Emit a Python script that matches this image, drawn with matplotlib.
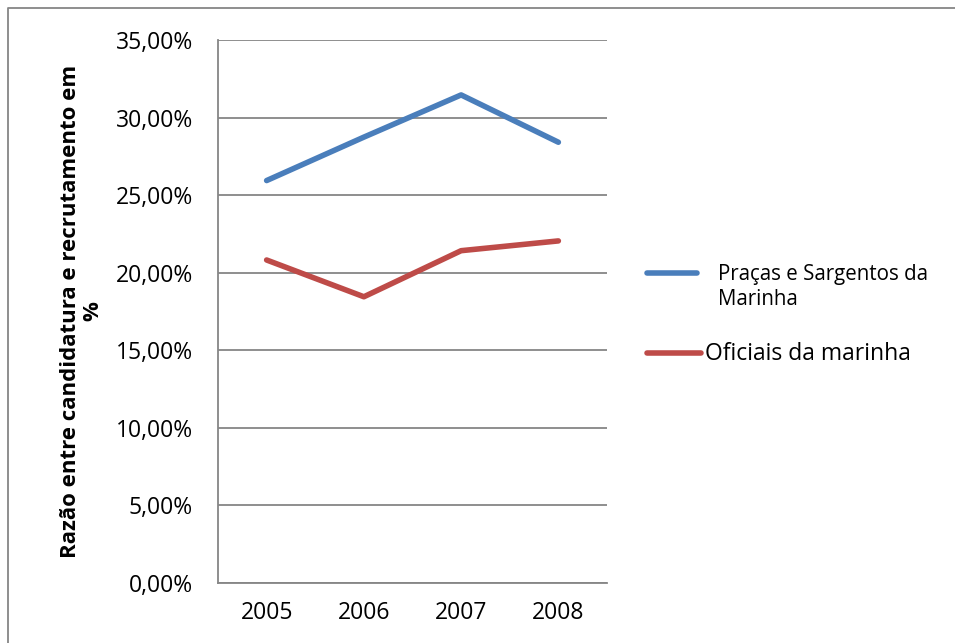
import matplotlib
matplotlib.use("Agg")
import matplotlib.pyplot as plt
from matplotlib.lines import Line2D
from matplotlib.ticker import FuncFormatter

plt.rcParams["font.family"] = ["Open Sans", "DejaVu Sans"]

years = ["2005", "2006", "2007", "2008"]
pracas = [25.94, 28.74, 31.46, 28.41]
oficiais = [20.82, 18.45, 21.42, 22.05]
series_names = ["Praças e Sargentos da\nMarinha", "Oficiais da marinha"]
y_label = "Razão entre candidatura e recrutamento em\n%"

blue = "#4a7ebb"
red = "#be4b48"
grid_c = "#868686"

fig = plt.figure(figsize=(9.55, 6.43), dpi=100)
ax = fig.add_axes([218 / 955, 1 - 583 / 643, (607 - 218) / 955, (583 - 40) / 643])

x = range(len(years))
ax.plot(x, pracas, color=blue, lw=4, solid_capstyle="round", solid_joinstyle="round", zorder=3)
ax.plot(x, oficiais, color=red, lw=4, solid_capstyle="round", solid_joinstyle="round", zorder=3)

ax.set_xlim(-0.5, len(years) - 0.5)
ax.set_ylim(0, 35)
ax.set_yticks(range(0, 36, 5))
ax.yaxis.set_major_formatter(FuncFormatter(lambda v, p: f"{v:.2f}%".replace(".", ",")))
ax.set_xticks(list(x))
ax.set_xticklabels(years)
ax.tick_params(length=0, labelsize=16.5, colors="black")
ax.tick_params(axis="y", pad=18)
ax.tick_params(axis="x", pad=13)
ax.grid(axis="y", color=grid_c, lw=1.3)
ax.set_axisbelow(True)
for s in ["top", "right"]:
    ax.spines[s].set_visible(False)
for s in ["left", "bottom"]:
    ax.spines[s].set_color(grid_c)
    ax.spines[s].set_linewidth(1.3)

ax.set_ylabel(y_label, fontsize=16, fontweight="bold", linespacing=1.05)
ax.yaxis.set_label_coords((103 - 218) / 389, 0.5)

# legend drawn by hand
fig.add_artist(Line2D([647 / 955, 697 / 955], [1 - 273 / 643] * 2, color=blue, lw=4, solid_capstyle="round"))
fig.text(718 / 955, 1 - 287 / 643, series_names[0], fontsize=14.8, va="center", ha="left", linespacing=1.3)
fig.add_artist(Line2D([647 / 955, 701 / 955], [1 - 353 / 643] * 2, color=red, lw=4, solid_capstyle="round"))
fig.text(705 / 955, 1 - 354 / 643, series_names[1], fontsize=16.5, va="center", ha="left")

# chart border
fig.add_artist(Line2D([8 / 955, 8 / 955, 1], [0, 1 - 8 / 643, 1 - 8 / 643], color=grid_c, lw=1.3))

fig.savefig("out.png", dpi=100)
